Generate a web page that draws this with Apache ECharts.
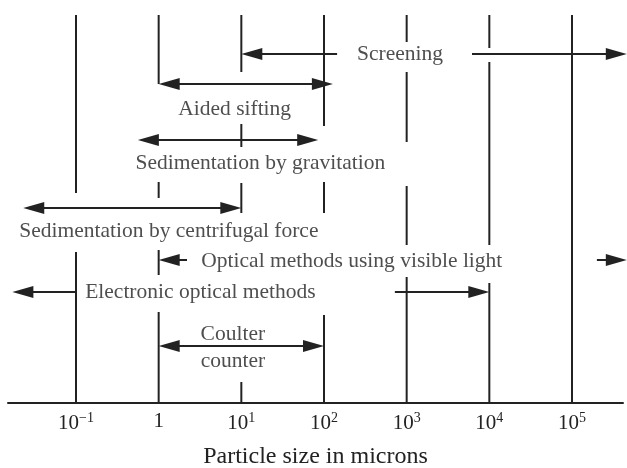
<!DOCTYPE html>
<html>
<head>
<meta charset="utf-8">
<script src="https://cdn.jsdelivr.net/npm/echarts@6/dist/echarts.min.js"></script>
<style>
html, body { margin: 0; padding: 0; background: #fff; }
#chart { width: 627px; height: 468px; }
</style>
</head>
<body>
<div id="chart"></div>
<script>
// size ranges covered by each method, in microns
var methods = ['Screening', 'Aided sifting', 'Sedimentation by gravitation',
	'Sedimentation by centrifugal force', 'Optical methods using visible light',
	'Electronic optical methods', 'Coulter\ncounter'];
var sizeFrom = [10, 1, 0.56, 0.023, 1, 0.017, 1];
var sizeTo = [4.6e5, 128, 85, 10, 4.6e5, 1e4, 100];
var decades = [-1, 0, 1, 2, 3, 4, 5];   // tick labels: 10^n microns

// layout of the drawing (rows, label spots, gaps round the labels)
var rowLevel = [349, 319, 263, 195, 143, 111, 57];
var labelAt = [830, 8.3, 17, 1.33, 217, 3.2, 7.9];
var labelDy = [0, -25, -23, -23, -1, 0, -1.5];
var lineGap = [[144, 6170], null, null, null, [2.2, 2.0e5], [0.1, 720], null];
var decadeCuts = [
	[[0, 151], [210, 388]],
	[[0, 91], [128, 153], [205, 221], [319, 388]],
	[[0, 21], [190, 220], [256, 279], [331, 388]],
	[[0, 88], [190, 221], [277, 388]],
	[[0, 126], [158, 217], [261, 331], [361, 388]],
	[[0, 120], [158, 341], [355, 388]],
	[[0, 388]]
];

var ink = '#222';
var serif = 'Liberation Serif';
var HEAD = 21, HALF = 6;

var log10 = function(v){ return Math.log(v) / Math.LN10; };

var arrowData = [];
for (var i = 0; i < methods.length; i++) {
	arrowData.push([log10(sizeFrom[i]), log10(sizeTo[i]), rowLevel[i]]);
}
var labelData = [];
for (var i = 0; i < methods.length; i++) {
	labelData.push({name: methods[i], value: [log10(labelAt[i]), rowLevel[i] + labelDy[i]]});
}
var segData = [];
for (var i = 0; i < decades.length; i++) {
	for (var j = 0; j < decadeCuts[i].length; j++) {
		segData.push([decades[i], decadeCuts[i][j][0], decadeCuts[i][j][1]]);
	}
}

function renderSeg(params, api){
	var a = api.coord([api.value(0), api.value(1)]);
	var b = api.coord([api.value(0), api.value(2)]);
	return {
		type: 'line',
		shape: {x1: a[0], y1: a[1], x2: b[0], y2: b[1]},
		style: {stroke: ink, lineWidth: 2}
	};
}

function renderArrow(params, api){
	var i = params.dataIndex;
	var a = api.coord([api.value(0), api.value(2)]);
	var b = api.coord([api.value(1), api.value(2)]);
	var y = a[1];
	var x0 = a[0] + HEAD - 2, x1 = b[0] - HEAD + 2;
	var pieces = [];
	var gap = lineGap[i];
	if (gap) {
		pieces.push([x0, api.coord([log10(gap[0]), 0])[0]]);
		pieces.push([api.coord([log10(gap[1]), 0])[0], x1]);
	} else {
		pieces.push([x0, x1]);
	}
	var children = [];
	for (var k = 0; k < pieces.length; k++) {
		children.push({
			type: 'line',
			shape: {x1: pieces[k][0], y1: y, x2: pieces[k][1], y2: y},
			style: {stroke: ink, lineWidth: 2}
		});
	}
	children.push({
		type: 'polygon',
		shape: {points: [[a[0], y], [a[0] + HEAD, y - HALF], [a[0] + HEAD, y + HALF]]},
		style: {fill: ink}
	});
	children.push({
		type: 'polygon',
		shape: {points: [[b[0], y], [b[0] - HEAD, y - HALF], [b[0] - HEAD, y + HALF]]},
		style: {fill: ink}
	});
	return {type: 'group', children: children};
}

var myChart = echarts.init(document.getElementById('chart'), null, {renderer: 'canvas'});

var option = {
	animation: false,
	backgroundColor: '#fff',
	grid: {left: 8, right: 4, top: 15, bottom: 65, containLabel: false, outerBoundsMode: 'none'},
	xAxis: {
		type: 'value',
		min: -1.8226,
		max: 5.617,
		splitLine: {show: false},
		axisTick: {show: false},
		axisLine: {show: true, lineStyle: {color: ink, width: 2}},
		axisLabel: {
			customValues: decades,
			margin: 8,
			color: ink,
			fontFamily: serif,
			fontSize: 21,
			formatter: function(v){
				if (v === 0) {
					return '1';
				}
				return '10{sup|' + (v < 0 ? '\u2212' : '') + Math.abs(v) + '}';
			},
			rich: {
				sup: {fontSize: 14, fontFamily: serif, color: ink, padding: [0, 0, 10, 0]}
			}
		},
		name: 'Particle size in microns',
		nameLocation: 'middle',
		nameGap: 42,
		nameTextStyle: {color: ink, fontFamily: serif, fontSize: 24}
	},
	yAxis: {type: 'value', min: 0, max: 388, show: false},
	series: [
		{
			type: 'custom',
			renderItem: renderSeg,
			data: segData,
			silent: true
		},
		{
			type: 'custom',
			renderItem: renderArrow,
			data: arrowData,
			silent: true
		},
		{
			type: 'scatter',
			symbolSize: 0,
			data: labelData,
			silent: true,
			label: {
				show: true,
				position: 'inside',
				formatter: '{b}',
				color: ink,
				fontFamily: serif,
				fontSize: 21.5,
				lineHeight: 27
			}
		}
	]
};
myChart.setOption(option);
</script>
</body>
</html>
